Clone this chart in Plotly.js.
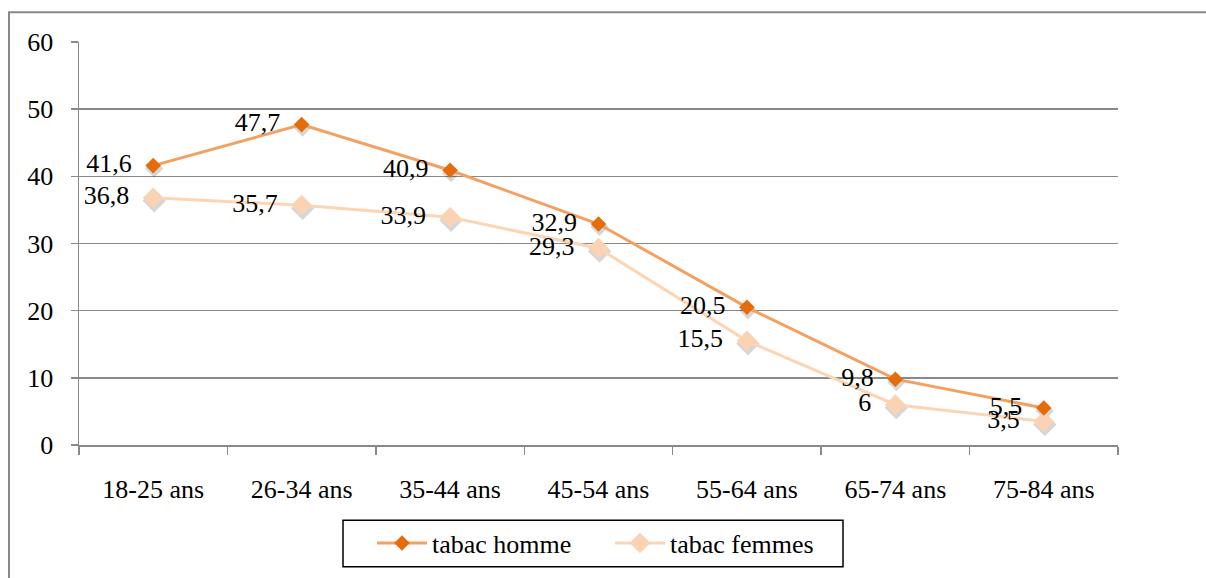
<!DOCTYPE html>
<html>
<head>
<meta charset="utf-8">
<script src="https://cdn.plot.ly/plotly-3.0.1.min.js"></script>
<style>
  html, body { margin: 0; padding: 0; background: #fff; }
  #chart { width: 1206px; height: 578px; }
</style>
</head>
<body>
<div id="chart"></div>
<script>
const categories = ["18-25 ans", "26-34 ans", "35-44 ans", "45-54 ans", "55-64 ans", "65-74 ans", "75-84 ans"];
const tabacHomme = [41.6, 47.7, 40.9, 32.9, 20.5, 9.8, 5.5];
const tabacFemmes = [36.8, 35.7, 33.9, 29.3, 15.5, 6, 3.5];
const seriesNames = ["tabac homme", "tabac femmes"];

const fmt = v => String(v).replace(".", ",") + "\u00a0\u00a0";
const FONT = "Liberation Serif, Times New Roman, serif";
const FS = 26;

const L = 79, R = 1118, T = 42, B = 449;
const W = R - L, H = B - T;
const px = v => (v - L) / W;
const py = v => (B - v) / H;

// soft marker shadows drawn on the base axes, main series on an overlay pair
const SHADOW_DY = 3, SHADOW_DX = 1;
const yShift = SHADOW_DY * 60 / H;
const xShift = SHADOW_DX * 7 / W;

const traces = [
  {
    x: categories, y: tabacFemmes, type: "scatter", mode: "markers", showlegend: false, hoverinfo: "skip",
    marker: { symbol: "diamond", size: 18, color: "rgba(0,0,0,0.16)" }, xaxis: "x", yaxis: "y"
  },
  {
    x: categories, y: tabacHomme, type: "scatter", mode: "markers", showlegend: false, hoverinfo: "skip",
    marker: { symbol: "diamond", size: 14, color: "rgba(0,0,0,0.16)" }, xaxis: "x", yaxis: "y"
  },
  {
    x: categories, y: tabacFemmes, name: seriesNames[1], type: "scatter", mode: "lines+markers+text",
    line: { color: "#FCD5B4", width: 3 },
    marker: { symbol: "diamond", size: 16, color: "#FBD3B3" },
    text: tabacFemmes.map(fmt), textposition: "middle left",
    textfont: { family: FONT, size: FS, color: "#000" },
    cliponaxis: false, xaxis: "x2", yaxis: "y2"
  },
  {
    x: categories, y: tabacHomme, name: seriesNames[0], type: "scatter", mode: "lines+markers+text",
    line: { color: "#F4A061", width: 3 },
    marker: { symbol: "diamond", size: 12, color: "#E46C0A" },
    text: tabacHomme.map(fmt), textposition: "middle left",
    textfont: { family: FONT, size: FS, color: "#000" },
    cliponaxis: false, xaxis: "x2", yaxis: "y2"
  }
];

const layout = {
  width: 1206, height: 578,
  margin: { l: L, r: 1206 - R, t: T, b: 578 - B },
  paper_bgcolor: "#fff", plot_bgcolor: "#fff",
  font: { family: FONT, size: FS, color: "#000" },
  showlegend: true,
  legend: {
    orientation: "h", traceorder: "reversed",
    x: px(372), xanchor: "left", y: py(548), yanchor: "middle",
    font: { family: FONT, size: FS, color: "#000" },
    borderwidth: 0, bgcolor: "rgba(0,0,0,0)",
    itemwidth: 50, entrywidth: 173
  },
  xaxis: {
    type: "category", range: [-0.5 - xShift, 6.5 - xShift],
    showline: false,
    ticks: "", showticklabels: false, showgrid: false, zeroline: false
  },
  yaxis: {
    range: [yShift, 60 + yShift],
    showline: false, ticks: "", showticklabels: false, showgrid: false, zeroline: false
  },
  xaxis2: {
    type: "category", range: [-0.5, 6.5], overlaying: "x", anchor: "y2", side: "bottom",
    showline: true, linecolor: "#898989", linewidth: 1.5,
    ticks: "outside", tickson: "boundaries", ticklen: 8, tickcolor: "#898989", tickwidth: 1.5,
    showgrid: false, ticklabelstandoff: 20,
    tickfont: { family: FONT, size: FS, color: "#000" }
  },
  yaxis2: {
    range: [0, 60], dtick: 10, tick0: 0, overlaying: "y", anchor: "x2", side: "left",
    showline: true, linecolor: "#898989", linewidth: 1.5,
    ticks: "outside", ticklen: 7, tickcolor: "#898989", tickwidth: 1.5,
    showgrid: true, gridcolor: "#898989", gridwidth: 1.5,
    zeroline: false, ticklabelstandoff: 12,
    tickfont: { family: FONT, size: FS, color: "#000" }
  },
  shapes: [
    { type: "rect", xref: "paper", yref: "paper", x0: px(9), x1: px(1230), y0: py(12), y1: py(600),
      line: { color: "#888", width: 2 }, layer: "below" },
    { type: "rect", xref: "paper", yref: "paper", x0: px(343), x1: px(843), y0: py(525), y1: py(572),
      line: { color: "#000", width: 1.5 } }
  ]
};

Plotly.newPlot("chart", traces, layout, { displayModeBar: false, staticPlot: true });
</script>
</body>
</html>
